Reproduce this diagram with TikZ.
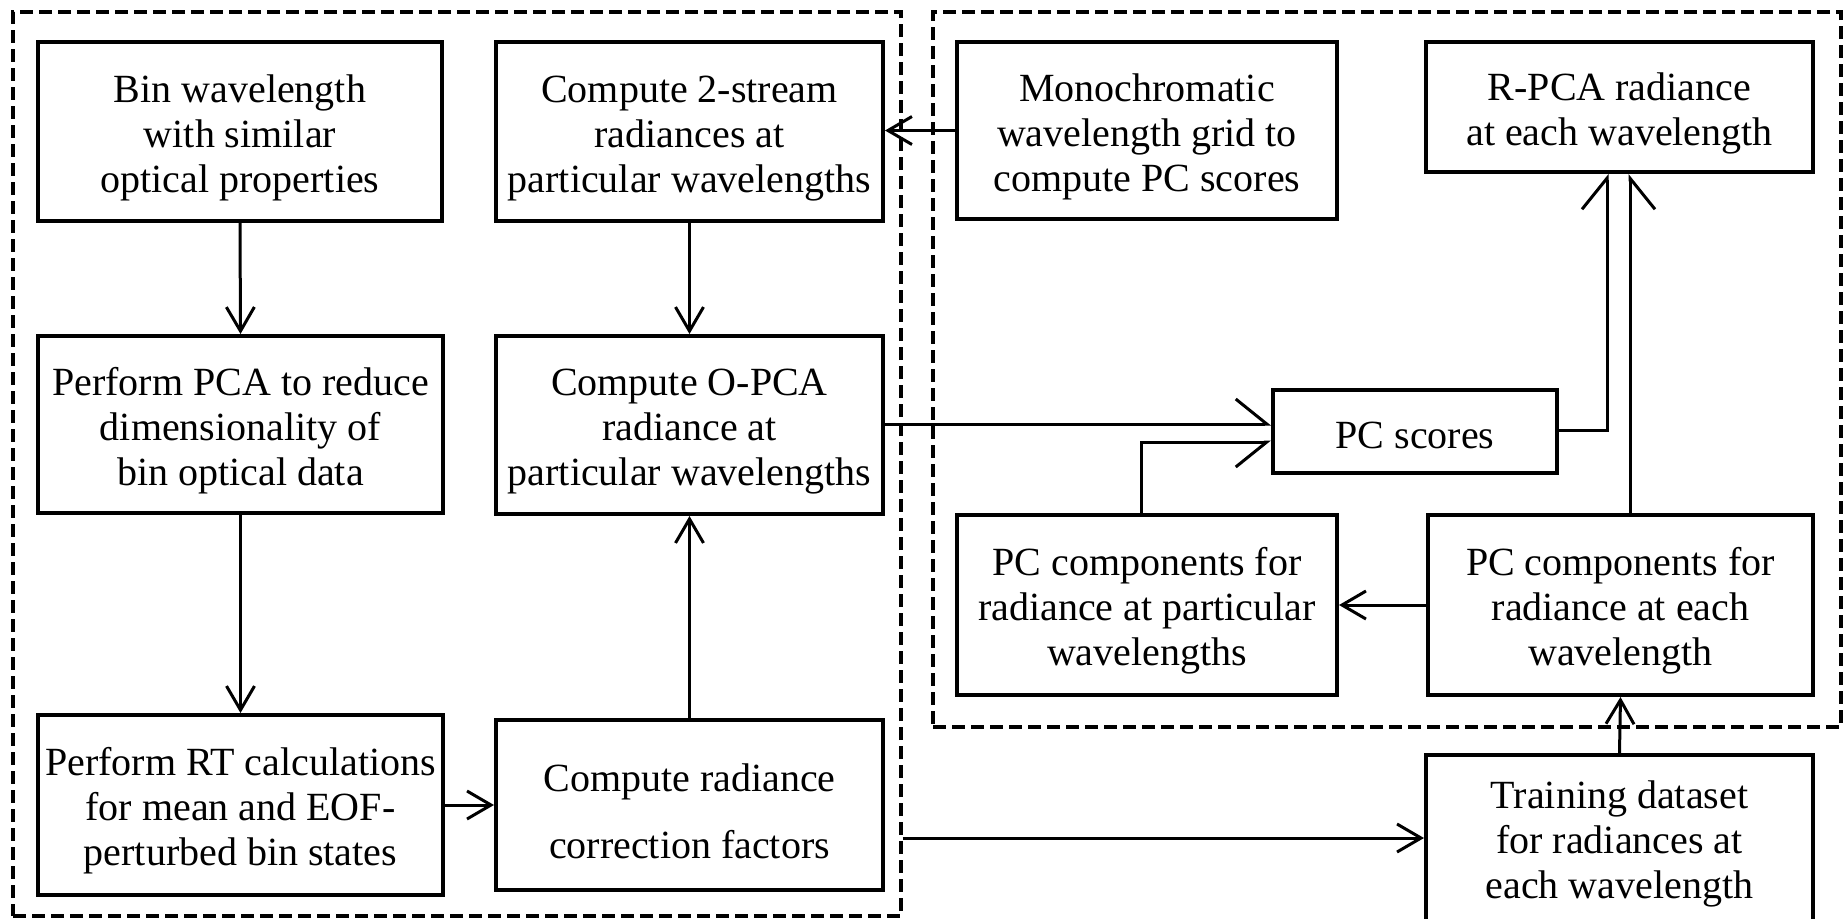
\documentclass[tikz,border=0pt]{standalone}
\usepackage{fontspec}
\setmainfont{Liberation Serif}
\usetikzlibrary{arrows.meta,calc}
% raises the first line's height so the text block sits a little lower
\newcommand\padtop[1][20pt]{\rule{0pt}{#1}}
\begin{document}
\begin{tikzpicture}[x=0.5pt,y=-0.5pt,
  stepbox/.style={draw,line width=2pt,align=center,inner sep=0pt,
    font=\fontsize{20pt}{22.5pt}\selectfont},
  grp/.style={draw,dash pattern=on 6.5pt off 3pt,line width=1.7pt,inner sep=0pt},
  link/.style={line width=1.5pt,-{Straight Barb[length=12pt,width=14pt]}},
  biglink/.style={line width=1.5pt,-{Straight Barb[length=15.5pt,width=25pt,#1]}},
  biglink/.default={}]
\useasboundingbox (0,0) rectangle (1844,918);

% dashed groups
\node[grp,minimum width=444pt,minimum height=452pt] (leftgrp) at (457,464) {};
\node[grp,minimum width=454pt,minimum height=357.5pt] (rightgrp) at (1387,369.5) {};

% left group
\node[stepbox,minimum width=202pt,minimum height=89.5pt] (bin) at (240,131.5)
  {\padtop Bin wavelength\\with similar\\optical properties};
\node[stepbox,minimum width=193.5pt,minimum height=89.5pt] (stream) at (689.5,131.5)
  {\padtop Compute 2-stream\\radiances at\\particular wavelengths};
\node[stepbox,minimum width=202.5pt,minimum height=88.5pt] (pca) at (240.5,424.5)
  {\padtop Perform PCA to reduce\\dimensionality of\\bin optical data};
\node[stepbox,minimum width=193.5pt,minimum height=89pt] (opca) at (689.5,425)
  {\padtop Compute O-PCA\\radiance at\\particular wavelengths};
\node[stepbox,minimum width=202.5pt,minimum height=90pt] (rt) at (240.5,805)
  {\padtop Perform RT calculations\\for mean and EOF-\\perturbed bin states};
\node[stepbox,minimum width=193.5pt,minimum height=85pt] (corr) at (689.5,805)
  {\padtop Compute radiance\\[11pt]correction factors};

% right group
\node[stepbox,minimum width=190pt,minimum height=88.5pt] (mono) at (1147,130.5)
  {\padtop Monochromatic\\wavelength grid to\\compute PC scores};
\node[stepbox,minimum width=193.5pt,minimum height=65pt] (rpca) at (1619.5,107)
  {\padtop R-PCA radiance\\at each wavelength};
\node[stepbox,minimum width=142pt,minimum height=41.5pt] (scores) at (1415,431.5)
  {\padtop[17pt]PC scores};
\node[stepbox,minimum width=190pt,minimum height=90pt] (pcpart) at (1147,605)
  {\padtop PC components for\\radiance at particular\\wavelengths};
\node[stepbox,minimum width=192.5pt,minimum height=90pt] (pceach) at (1620.5,605)
  {\padtop PC components for\\radiance at each\\wavelength};

% outside the groups
\node[stepbox,minimum width=193.5pt,minimum height=83pt] (train) at (1619.5,838)
  {\padtop Training dataset\\for radiances at\\each wavelength};

% connectors
\draw[link] (bin.south) -- (pca.north);
\draw[link] (pca.south) -- (rt.north);
\draw[link] (stream.south) -- (opca.north);
\draw[link] (corr.north) -- (opca.south);
\draw[link] (rt.east) -- (corr.west);
\draw[link] (mono.west) -- (mono.west -| stream.east);

\coordinate (in1) at ($(scores.west)+(0,-7.5)$);
\coordinate (in2) at ($(scores.west)+(0,10.5)$);
\draw[biglink=left] (opca.east |- in1) -- (in1);
\draw[biglink=right] ([xshift=-3pt]pcpart.north) |- (in2);
\draw[biglink=left] ([yshift=0.75pt]scores.east) -| ([xshift=-6.25pt]rpca.south);
\draw[biglink=right] ([xshift=4.75pt]pceach.north) -- ([xshift=4.75pt]pceach.north |- rpca.south);
\draw[link] (pceach.west) -- (pcpart.east);
\draw[link] (train.north) -- (pceach.south);
\draw[link] (leftgrp.east |- train.west) -- (train.west);
\end{tikzpicture}
\end{document}
